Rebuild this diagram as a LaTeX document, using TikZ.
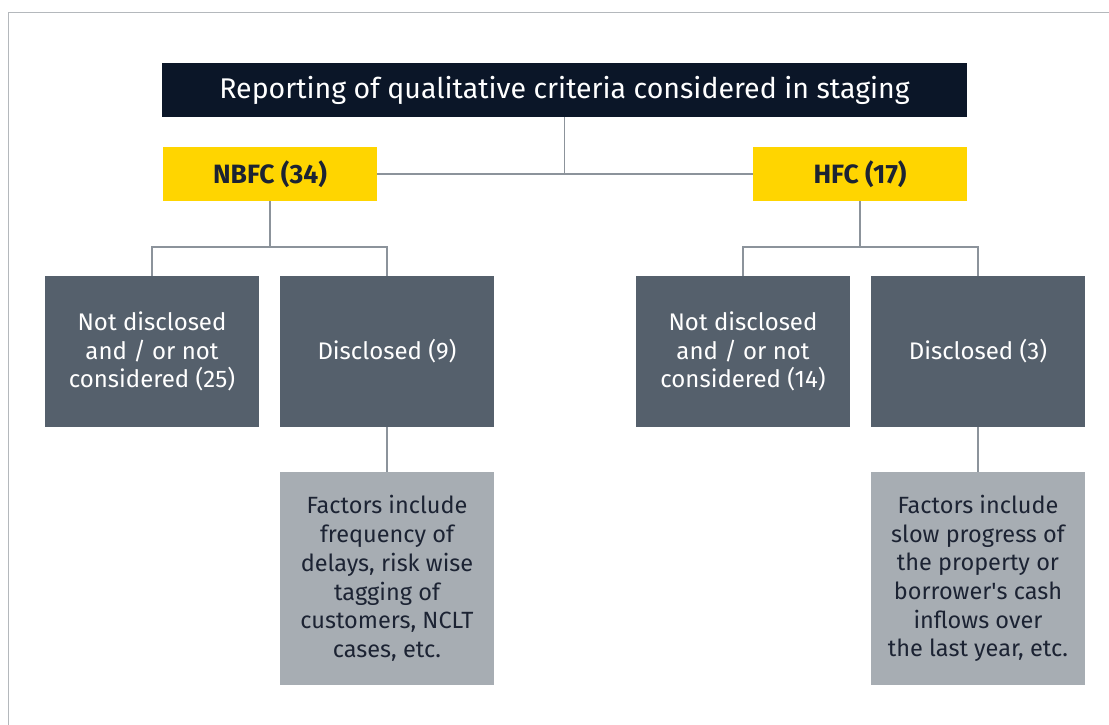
\documentclass[tikz,border=0pt]{standalone}
\usepackage{fontspec}
\setmainfont{Fira Sans}
\definecolor{navy}{HTML}{0B1628}
\definecolor{eyyellow}{HTML}{FFD500}
\definecolor{slate}{HTML}{55606C}
\definecolor{lightslate}{HTML}{A7ADB3}
\definecolor{linegray}{HTML}{8C939B}
\definecolor{framegray}{HTML}{B4B8BC}
\definecolor{darktext}{HTML}{1C2333}
\tikzset{
  titlebox/.style={rectangle, fill=navy, text=white, minimum width=805pt, minimum height=54pt, inner sep=0pt, font=\fontsize{28.5}{32}\selectfont},
  catbox/.style={rectangle, fill=eyyellow, text=darktext, minimum width=214pt, minimum height=54pt, inner sep=0pt, font=\fontsize{26.5}{30}\selectfont\bfseries},
  graybox/.style={rectangle, fill=slate, text=white, minimum width=214pt, minimum height=151pt, inner sep=0pt, align=center, font=\fontsize{24}{28.5}\selectfont},
  lightbox/.style={rectangle, fill=lightslate, text=darktext, minimum width=214pt, minimum height=213pt, inner sep=0pt, align=center, font=\fontsize{23.5}{28.7}\selectfont},
  conn/.style={draw=linegray, line width=1.4pt},
  frameline/.style={draw=framegray, line width=1.5pt}
}
\begin{document}
\begin{tikzpicture}[x=1pt,y=-1pt]
\useasboundingbox (0,0) rectangle (1109,725);
\coordinate (ftop) at (1109,12.5);
\coordinate (fcorner) at (8.5,12.5);
\coordinate (fbot) at (8.5,725);
\draw[frameline] (ftop) -- (fcorner) -- (fbot);

\node[titlebox] (title) at (564.5,90) {Reporting of qualitative criteria considered in staging};
\node[catbox] (nbfc) at (270,174) {NBFC (34)};
\node[catbox] (hfc) at (860,174) {HFC (17)};

\node[graybox] (g1) at (152,351.5) {Not disclosed\\and / or not\\considered (25)};
\node[graybox] (g2) at (387,351.5) {Disclosed (9)};
\node[graybox] (g3) at (743,351.5) {Not disclosed\\and / or not\\considered (14)};
\node[graybox] (g4) at (978,351.5) {Disclosed (3)};

\node[lightbox] (l2) at (387,578.5) {Factors include\\frequency of\\delays, risk wise\\tagging of\\customers, NCLT\\cases, etc.};
\node[lightbox] (l4) at (978,578.5) {Factors include\\slow progress of\\the property or\\borrower\textquotesingle s cash\\inflows over\\the last year, etc.};

\coordinate (nb) at (270,247);
\coordinate (hb) at (860,247);

\draw[conn] (title.south) -- (title.south |- nbfc.east);
\draw[conn] (nbfc.east) -- (hfc.west);
\draw[conn] (nbfc.south) -- (nb);
\draw[conn] (g1.north) -- (g1.north |- nb) -- (g2.north |- nb) -- (g2.north);
\draw[conn] (hfc.south) -- (hb);
\draw[conn] (g3.north) -- (g3.north |- hb) -- (g4.north |- hb) -- (g4.north);
\draw[conn] (g2.south) -- (l2.north);
\draw[conn] (g4.south) -- (l4.north);
\end{tikzpicture}
\end{document}
